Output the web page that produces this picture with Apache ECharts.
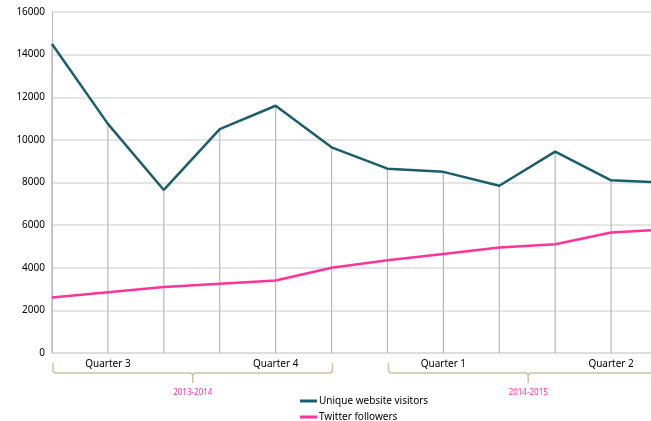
<!DOCTYPE html>
<html>
<head>
<meta charset="utf-8">
<script src="https://cdn.jsdelivr.net/npm/echarts@6/dist/echarts.min.js"></script>
<style>
  html, body { margin: 0; padding: 0; background: #fff; }
  #chart { width: 651px; height: 421px; }
</style>
</head>
<body>
<div id="chart"></div>
<script>
// ---- Data ----
const months = ['Jul', 'Aug', 'Sep', 'Oct', 'Nov', 'Dec', 'Jan', 'Feb', 'Mar', 'Apr', 'May', 'Jun'];
const visitors = [14500, 10750, 7650, 10500, 11600, 9650, 8650, 8500, 7850, 9450, 8100, 8000];
const twitter = [2600, 2850, 3100, 3250, 3400, 4000, 4350, 4650, 4950, 5100, 5650, 5800];
const quarterNames = ['Quarter 3', 'Quarter 4', 'Quarter 1', 'Quarter 2'];
const quarterCenter = [1, 4, 7, 10];
const yearNames = ['2013-2014', '2014-2015'];
const yearStart = [0, 6];
const yearEnd = [5, 11];
const seriesNames = ['Unique website visitors', 'Twitter followers'];

const TEAL = '#1b5e6b';
const PINK = '#ff3399';
const FONT = '"Noto Sans", "DejaVu Sans", sans-serif';

const chart = echarts.init(document.getElementById('chart'), null, { renderer: 'canvas' });

const option = {
  animation: false,
  backgroundColor: '#fff',
  grid: { left: 52, top: 12, bottom: 68, right: -16, containLabel: false, outerBoundsMode: 'none' },
  legend: {
    data: seriesNames,
    orient: 'vertical',
    left: 295,
    top: 389,
    height: 32,
    itemWidth: 17,
    itemHeight: 3,
    itemGap: 2,
    icon: 'rect',
    textStyle: { fontFamily: FONT, fontSize: 10, color: '#000', padding: [0, 0, 0, -3], lineHeight: 14 }
  },
  xAxis: {
    type: 'category',
    data: months,
    boundaryGap: false,
    axisLabel: { show: false },
    axisTick: { show: false },
    axisLine: { show: true, lineStyle: { color: '#dcdcdc', width: 1.5 } },
    splitLine: { show: false }
  },
  yAxis: {
    type: 'value',
    min: 0,
    max: 16000,
    interval: 2000,
    axisLine: { show: true, lineStyle: { color: '#bbbbbb', width: 1 } },
    axisTick: { show: false },
    axisLabel: { fontFamily: FONT, fontSize: 10, color: '#000', margin: 7, formatter: (v) => String(v) },
    splitLine: { show: true, lineStyle: { color: '#dcdcdc', width: 1.5 } }
  },
  series: [
    {
      type: 'custom',
      name: 'drop',
      z: 1,
      silent: true,
      data: visitors.map((v, i) => [i, v]),
      renderItem: function (params, api) {
        const a = api.coord([api.value(0), 0]);
        const b = api.coord([api.value(0), api.value(1)]);
        return {
          type: 'line',
          shape: { x1: a[0], y1: a[1], x2: b[0], y2: b[1] },
          style: { stroke: '#b8b8b8', lineWidth: 1.2 }
        };
      }
    },
    {
      type: 'line',
      name: seriesNames[0],
      data: visitors,
      symbol: 'none',
      z: 3,
      color: TEAL,
      lineStyle: { color: TEAL, width: 2.5 }
    },
    {
      type: 'line',
      name: seriesNames[1],
      data: twitter,
      symbol: 'none',
      z: 3,
      color: PINK,
      lineStyle: { color: PINK, width: 2.5 }
    },
    {
      type: 'custom',
      name: 'quarters',
      silent: true,
      clip: false,
      data: quarterCenter.map((c) => [c, 0]),
      renderItem: function (params, api) {
        const p = api.coord([api.value(0), 0]);
        return {
          type: 'text',
          style: {
            x: p[0], y: p[1] + 11,
            text: quarterNames[params.dataIndex],
            fill: '#000',
            font: '10px ' + FONT,
            align: 'center',
            verticalAlign: 'middle'
          }
        };
      }
    },
    {
      type: 'custom',
      name: 'years',
      silent: true,
      clip: false,
      data: yearStart.map((s, k) => [s, yearEnd[k]]),
      renderItem: function (params, api) {
        const a = api.coord([api.value(0), 0]);
        const b = api.coord([api.value(1), 0]);
        const x1 = a[0] + 1, x2 = b[0] + 1;
        const base = a[1];
        const top = base + 10, bot = base + 20, tip = base + 30;
        const mid = (x1 + x2) / 2;
        const r = 3;
        const d = 'M' + x1 + ' ' + top + ' L' + x1 + ' ' + (bot - r) +
          ' Q' + x1 + ' ' + bot + ' ' + (x1 + r) + ' ' + bot +
          ' L' + (mid - r) + ' ' + bot +
          ' Q' + mid + ' ' + bot + ' ' + mid + ' ' + (bot + r) +
          ' L' + mid + ' ' + tip +
          ' M' + mid + ' ' + (bot + r) +
          ' Q' + mid + ' ' + bot + ' ' + (mid + r) + ' ' + bot +
          ' L' + (x2 - r) + ' ' + bot +
          ' Q' + x2 + ' ' + bot + ' ' + x2 + ' ' + (bot - r) +
          ' L' + x2 + ' ' + top;
        return {
          type: 'group',
          children: [
            {
              type: 'path',
              shape: { pathData: d },
              style: { stroke: '#c9c2a3', lineWidth: 1.5, fill: null }
            },
            {
              type: 'text',
              style: {
                x: mid, y: base + 40,
                text: yearNames[params.dataIndex],
                fill: PINK,
                font: '8px ' + FONT,
                align: 'center',
                verticalAlign: 'middle'
              }
            }
          ]
        };
      }
    }
  ]
};

chart.setOption(option);
</script>
</body>
</html>
